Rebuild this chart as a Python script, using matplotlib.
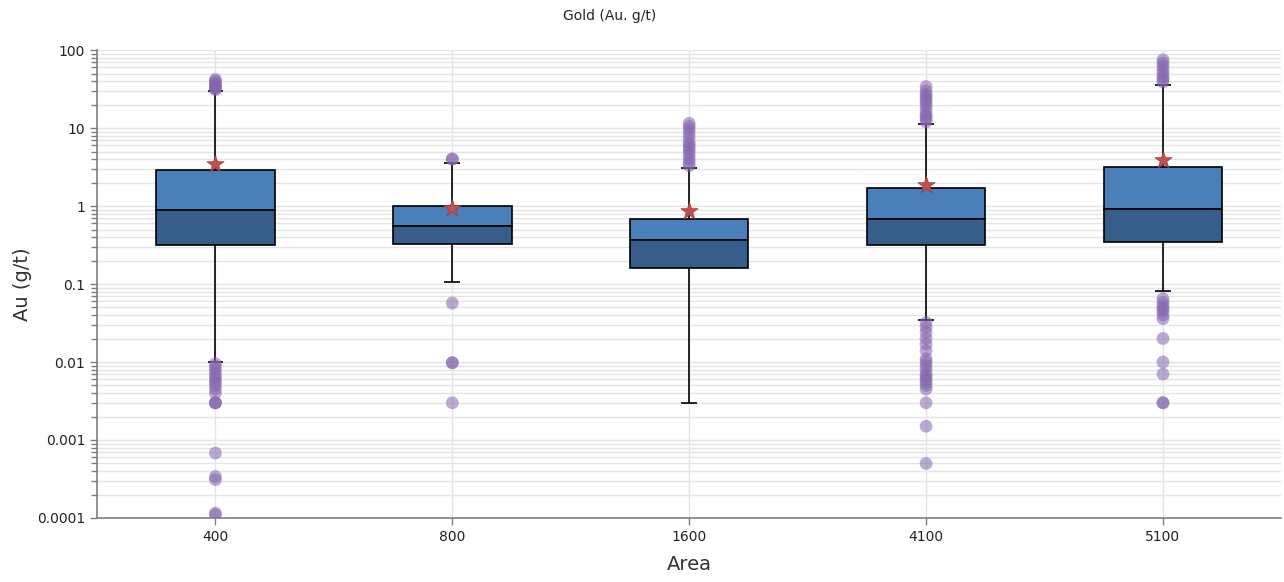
import matplotlib
matplotlib.use("Agg")
import matplotlib.pyplot as plt
from matplotlib.ticker import LogLocator, FixedLocator, FixedFormatter, NullFormatter
import numpy as np

# Gold assay summary by area
areas = ["400", "800", "1600", "4100", "5100"]
q1 = [0.316, 0.326, 0.16, 0.316, 0.345]
median = [0.89, 0.55, 0.367, 0.68, 0.92]
q3 = [2.89, 1.0, 0.68, 1.70, 3.16]
whisker_low = [0.0100, 0.106, 0.003, 0.0346, 0.081]
whisker_high = [29.8, 3.56, 3.07, 11.3, 35.7]
mean = [3.45, 0.94, 0.86, 1.86, 3.9]

outliers = [
    [42, 40, 38, 36, 34, 33, 32, 31,
     0.0095, 0.0088, 0.008, 0.0072, 0.0065, 0.006, 0.0055, 0.005, 0.0045,
     0.004, 0.003, 0.003, 0.003, 0.00068, 0.00034, 0.00031, 0.000115, 0.00011],
    [4.0, 4.0, 0.057, 0.0098, 0.0098, 0.003],
    [11.5, 10.5, 9.5, 8.5, 7.5, 6.5, 6.0, 5.5, 5.0, 4.5, 4.0, 3.6, 3.3],
    [34, 30, 27, 25, 23, 21, 19, 17, 15, 14, 13, 12,
     0.032, 0.028, 0.024, 0.02, 0.017, 0.014, 0.011, 0.010, 0.009, 0.008,
     0.007, 0.0065, 0.006, 0.0055, 0.005, 0.0045, 0.003, 0.0015, 0.0005],
    [75, 68, 62, 55, 50, 45, 42, 39,
     0.065, 0.058, 0.052, 0.048, 0.045, 0.04, 0.036, 0.02, 0.01, 0.007,
     0.003, 0.003],
]

y_ticks = [0.0001, 0.001, 0.01, 0.1, 1, 10, 100]
y_tick_labels = ["0.0001", "0.001", "0.01", "0.1", "1", "10", "100"]

upper_color = "#4a7fba"
lower_color = "#375d8b"
outlier_color = "#8466b0"
mean_color = "#c0504d"
grid_color = "#e4e4e4"
axis_color = "#7f7f7f"

fig = plt.figure(figsize=(12.84, 5.82), dpi=100)
ax = fig.add_axes([0.0755, 0.11, 0.9225, 0.804])

pos = np.arange(len(areas))
box_w = 0.5
cap_w = 0.033

ax.set_yscale("log")
ax.set_ylim(1e-4, 100)
ax.set_xlim(-0.5, len(areas) - 0.5)

# grid
ax.yaxis.set_major_locator(FixedLocator(y_ticks))
ax.yaxis.set_major_formatter(FixedFormatter(y_tick_labels))
ax.yaxis.set_minor_locator(LogLocator(base=10, subs=np.arange(2, 10)))
ax.yaxis.set_minor_formatter(NullFormatter())
ax.grid(True, which="both", axis="y", color=grid_color, lw=1.0, zorder=0)
ax.grid(True, which="major", axis="x", color=grid_color, lw=1.0, zorder=0)
ax.set_axisbelow(True)

# whiskers and caps
ax.vlines(pos, q3, whisker_high, color="black", lw=1.2, zorder=2)
ax.vlines(pos, whisker_low, q1, color="black", lw=1.2, zorder=2)
ax.hlines(whisker_high, pos - cap_w, pos + cap_w, color="black", lw=1.2, zorder=2)
ax.hlines(whisker_low, pos - cap_w, pos + cap_w, color="black", lw=1.2, zorder=2)

# boxes split at the median
ax.bar(pos, np.array(q3) - np.array(median), bottom=median, width=box_w,
       color=upper_color, edgecolor="black", lw=1.2, zorder=3)
ax.bar(pos, np.array(median) - np.array(q1), bottom=q1, width=box_w,
       color=lower_color, edgecolor="black", lw=1.2, zorder=3)

# outliers
for p, vals in zip(pos, outliers):
    ax.scatter(np.full(len(vals), p), vals, s=85, color=outlier_color,
               alpha=0.55, edgecolors="none", zorder=4)

# means
ax.scatter(pos, mean, marker="*", s=170, color=mean_color, edgecolors="#a03b38",
           linewidths=0.5, zorder=5)

ax.set_xticks(pos)
ax.set_xticklabels(areas)
ax.tick_params(axis="x", labelsize=10, colors=axis_color, labelcolor="#222222",
               length=5, width=1)
ax.tick_params(axis="y", which="major", labelsize=10, colors=axis_color,
               labelcolor="#222222", length=5, width=1)
ax.tick_params(axis="y", which="minor", colors=axis_color, length=4, width=1)

for s in ["top", "right"]:
    ax.spines[s].set_visible(False)
for s in ["left", "bottom"]:
    ax.spines[s].set_color(axis_color)
    ax.spines[s].set_linewidth(1.2)

ax.set_xlabel("Area", fontsize=14, color="#333333", labelpad=8)
ax.set_ylabel("Au (g/t)", fontsize=14, color="#333333")
ax.yaxis.set_label_coords(-0.055, 0.5)

fig.text(610 / 1284, 1 - 16 / 582, "Gold (Au. g/t)", ha="center", va="center",
         fontsize=10, color="#222222")

fig.savefig("out.png", dpi=100)
